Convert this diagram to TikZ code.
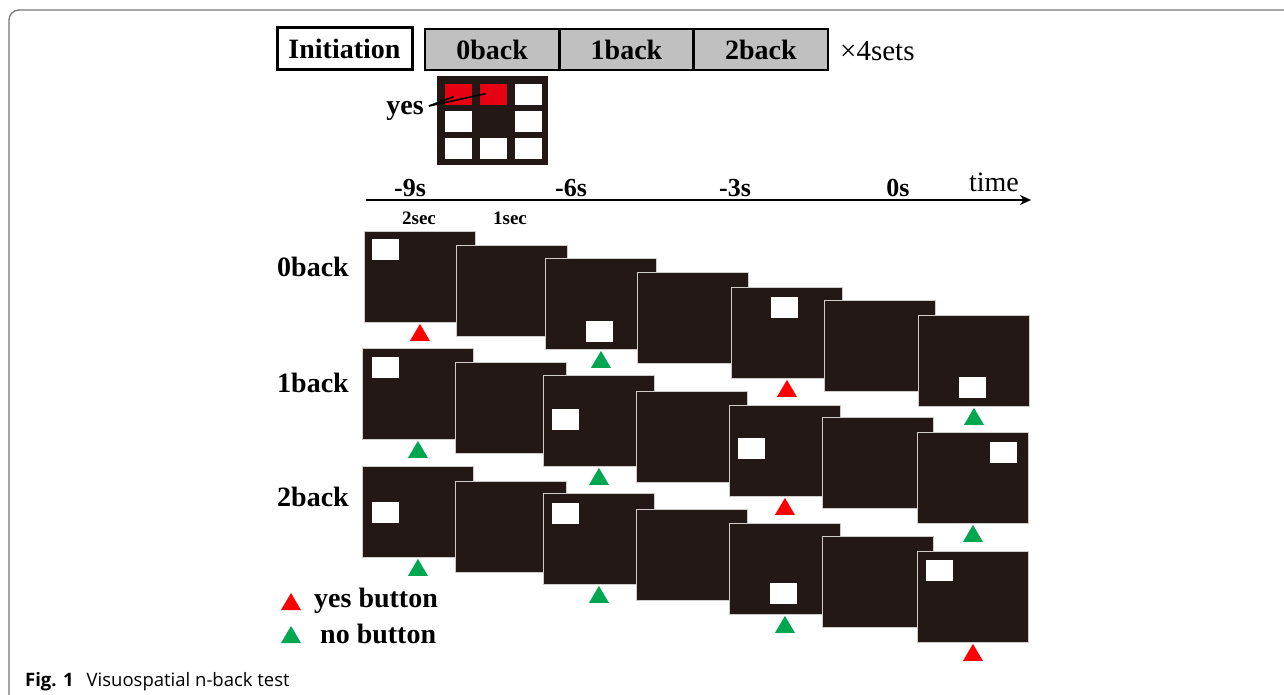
\documentclass[tikz,border=0pt]{standalone}
\usepackage{fontspec}
\setmainfont{Liberation Serif}
\newfontfamily\capfont{Open Sans}
\usetikzlibrary{arrows.meta,calc}
\definecolor{panelc}{HTML}{231815}
\definecolor{outl}{HTML}{CFCBCB}
\definecolor{hdrgray}{HTML}{C0C0C0}
\definecolor{yesred}{HTML}{FF0000}
\definecolor{cellred}{HTML}{E60012}
\definecolor{nogreen}{HTML}{00A650}
\definecolor{framec}{HTML}{777777}
\newcommand\pnl[3]{\node[panel] (#1) at (#2,#3) {};}
\newcommand\wsq[3]{\node[sq] (#1s) at ($(#1.north west)+(#2,#3)$) {};}
\newcommand\trimark[2]{\fill[#2] ($(#1.south)+(0,1)$) -- ++(10,17) -- ++(-20,0) -- cycle;}
\begin{document}
\begin{tikzpicture}[x=1pt,y=-1pt,
  panel/.style={draw=outl, line width=0.9pt, fill=panelc, minimum width=111pt, minimum height=91pt, inner sep=0pt, anchor=north west},
  sq/.style={fill=white, minimum width=27pt, minimum height=21pt, inner sep=0pt, anchor=north west},
  cell/.style={fill=white, minimum width=27pt, minimum height=21pt, inner sep=0pt, anchor=north west},
  big/.style={font=\fontsize{28}{30}\selectfont\bfseries},
  tlab/.style={font=\fontsize{26}{28}\selectfont\bfseries},
  small/.style={font=\fontsize{19}{21}\selectfont\bfseries},
  hdr/.style={draw=black, line width=2.6pt, fill=hdrgray, minimum width=134.3pt, minimum height=41pt, inner sep=0pt, big}
]
\useasboundingbox (0,0) rectangle (1284,695);
% frame
\draw[framec, line width=1.3pt, rounded corners=10pt] (9,695) -- (9,10) -- (1284,10);

% header
\node[draw=black, line width=3pt, fill=white, minimum width=135pt, minimum height=42pt, inner sep=0pt, big] (init) at (344.5,49) {Initiation};
\node[hdr] (h0) at (492.2,49.5) {0back};
\node[hdr] (h1) at (626.5,49.5) {1back};
\node[hdr] (h2) at (760.8,49.5) {2back};
\node[anchor=west, font=\fontsize{29}{31}\selectfont, inner sep=0pt] (sets) at (840,51) {×4sets};

% grid
\node[fill=panelc, minimum width=111pt, minimum height=89pt, inner sep=0pt, anchor=north west] (grid) at (437,76) {};
\node[cell, fill=cellred] (c11) at ($(grid.north west)+(8,8)$) {};
\node[cell, fill=cellred] (c12) at ($(grid.north west)+(43,8)$) {};
\node[cell] (c13) at ($(grid.north west)+(78,8)$) {};
\node[cell] (c21) at ($(grid.north west)+(8,35)$) {};
\node[cell] (c23) at ($(grid.north west)+(78,35)$) {};
\node[cell] (c31) at ($(grid.north west)+(8,62)$) {};
\node[cell] (c32) at ($(grid.north west)+(43,62)$) {};
\node[cell] (c33) at ($(grid.north west)+(78,62)$) {};
\node[big, anchor=base east, inner sep=0pt] (yes) at (424,115) {yes};
\coordinate (ystart) at (429,106);
\draw[line width=1.6pt] (ystart) -- ($(c11.center)+(-5,2)$);
\draw[line width=1.6pt] (ystart) -- ($(c12.center)+(-8,-1)$);

% timeline
\coordinate (tl) at (366,200);
\coordinate (tr) at (1031,200);
\draw[line width=2.4pt, -{Stealth[length=11pt,width=10pt]}] (tl) -- (tr);
\node[tlab] (m9) at (410,188) {-9s};
\node[tlab] (m6) at (571,188) {-6s};
\node[tlab] (m3) at (735,188) {-3s};
\node[tlab] (z0) at (898,188) {0s};
\node[font=\fontsize{28}{30}\selectfont] (time) at (994,182) {time};
\node[small] (s2) at (419,218) {2sec};
\node[small] (s1) at (510,218) {1sec};

% row labels
\node[big] (l0) at (313,267) {0back};
\node[big] (l1) at (313,383) {1back};
\node[big] (l2) at (313,497) {2back};

% row 0
\pnl{a1}{364}{231} \wsq{a1}{8}{8}
\pnl{a2}{456}{245}
\pnl{a3}{545}{258} \wsq{a3}{41}{63}
\pnl{a4}{637}{272}
\pnl{a5}{731}{287} \wsq{a5}{40}{10}
\pnl{a6}{824}{300}
\pnl{a7}{918}{315} \wsq{a7}{41}{62}
\trimark{a1}{yesred} \trimark{a3}{nogreen} \trimark{a5}{yesred} \trimark{a7}{nogreen}

% row 1
\pnl{b1}{362}{348} \wsq{b1}{10}{9}
\pnl{b2}{455}{362}
\pnl{b3}{543}{375} \wsq{b3}{9}{34}
\pnl{b4}{636}{391}
\pnl{b5}{729}{405} \wsq{b5}{9}{33}
\pnl{b6}{822}{417}
\pnl{b7}{917}{432} \wsq{b7}{73}{10}
\trimark{b1}{nogreen} \trimark{b3}{nogreen} \trimark{b5}{yesred} \trimark{b7}{nogreen}

% row 2
\pnl{c1}{362}{466} \wsq{c1}{10}{36}
\pnl{c2}{455}{481}
\pnl{c3}{543}{493} \wsq{c3}{9}{10}
\pnl{c4}{636}{509}
\pnl{c5}{729}{523} \wsq{c5}{41}{60}
\pnl{c6}{822}{536}
\pnl{c7}{917}{551} \wsq{c7}{9}{9}
\trimark{c1}{nogreen} \trimark{c3}{nogreen} \trimark{c5}{nogreen} \trimark{c7}{yesred}

% legend
\coordinate (lr) at (291,593);
\coordinate (lg) at (291,626);
\fill[yesred] (lr) -- ++(10,17) -- ++(-20,0) -- cycle;
\fill[nogreen] (lg) -- ++(10,17) -- ++(-20,0) -- cycle;
\node[big, anchor=west, inner sep=0pt] (yb) at (314,601) {yes button};
\node[big, anchor=west, inner sep=0pt] (nb) at (320,634) {no button};

% caption
\node[anchor=base west, inner sep=0pt, font=\capfont\fontsize{18.5}{20}\selectfont] (cap) at (25,686) {\textbf{Fig. 1}\hspace{13pt}Visuospatial n-back test};
\end{tikzpicture}
\end{document}
